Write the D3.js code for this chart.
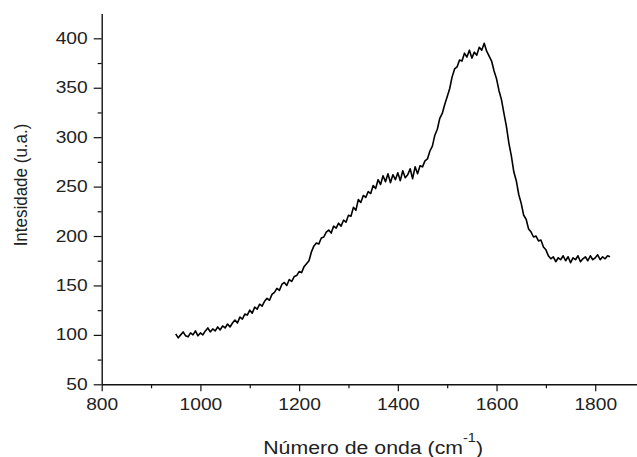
<!DOCTYPE html>
<html>
<head>
<meta charset="utf-8">
<script src="https://cdn.jsdelivr.net/npm/d3@7"></script>
<style>
  body { margin: 0; background: #fff; }
  text { font-family: "Liberation Sans", Arial, sans-serif; fill: #222; }
</style>
</head>
<body>
<script>
// Dimensions of the canvas
const width = 637;
const height = 457;

// Spectrum: wavenumber grid (cm-1) and intensity
const waveStart = 950;
const waveStep = 5;
const intensity = [
  101, 97, 100, 103, 99, 98, 102, 100, 104, 99,
  102, 100, 104, 107, 103, 106, 104, 108, 105, 109,
  107, 111, 108, 112, 115, 112, 118, 116, 121, 120,
  125, 122, 128, 126, 131, 129, 134, 137, 135, 141,
  143, 147, 145, 151, 153, 150, 156, 154, 159, 160,
  164, 163, 169, 172, 175, 184, 190, 193, 192, 198,
  199, 204, 206, 203, 210, 208, 213, 210, 216, 214,
  221, 220, 229, 226, 237, 234, 241, 239, 245, 243,
  251, 248, 257, 252, 261, 255, 263, 254, 262, 257,
  264, 256, 266, 259, 262, 268, 258, 270, 263, 271,
  270, 276, 278, 286, 291, 302, 308, 319, 324, 333,
  341, 349, 361, 369, 371, 378, 377, 385, 381, 388,
  380, 386, 383, 391, 388, 395, 387, 382, 377, 367,
  359, 347, 338, 324, 311, 294, 281, 265, 256, 242,
  233, 221, 217, 207, 204, 199, 200, 195, 196, 189,
  186, 180, 177, 179, 174, 178, 176, 180, 175, 179,
  173, 178, 176, 180, 174, 177, 179, 175, 180, 176,
  178, 181, 176, 179, 177, 180, 179
];
const wavenumber = d3.range(intensity.length).map(i => waveStart + i * waveStep);

// Axis ticks
const xTicks = [800, 1000, 1200, 1400, 1600, 1800];
const xMinor = [900, 1100, 1300, 1500, 1700];
const yTicks = [50, 100, 150, 200, 250, 300, 350, 400];
const yMinor = [75, 125, 175, 225, 275, 325, 375];

const svg = d3.select('body')
  .append('svg')
  .attr('width', width)
  .attr('height', height);

// Scales
const x = d3.scaleLinear().domain([800, 1900]).range([101.7, 644.6]);
const y = d3.scaleLinear().domain([50, 425]).range([384.3, 13.6]);

// Minor ticks first, so the main axes sit on top
svg.append('g')
  .attr('transform', `translate(0,${y(50)})`)
  .call(d3.axisBottom(x).tickValues(xMinor).tickSize(4).tickFormat(''))
  .call(g => g.select('.domain').remove())
  .selectAll('line').attr('stroke', '#111').attr('stroke-width', 1.2);

svg.append('g')
  .attr('transform', `translate(${x(800)},0)`)
  .call(d3.axisLeft(y).tickValues(yMinor).tickSize(4).tickFormat(''))
  .call(g => g.select('.domain').remove())
  .selectAll('line').attr('stroke', '#111').attr('stroke-width', 1.2);

// X axis
const xAxis = svg.append('g')
  .attr('transform', `translate(0,${y(50)})`)
  .call(d3.axisBottom(x).tickValues(xTicks).tickFormat(d3.format('d'))
    .tickSize(7).tickSizeOuter(0).tickPadding(7));
xAxis.select('.domain').attr('stroke', '#111').attr('stroke-width', 1.4);
xAxis.selectAll('line').attr('stroke', '#111').attr('stroke-width', 1.2);
xAxis.selectAll('text')
  .attr('font-size', 16)
  .attr('transform', 'scale(1.2,1)');

// Y axis
const yAxis = svg.append('g')
  .attr('transform', `translate(${x(800)},0)`)
  .call(d3.axisLeft(y).tickValues(yTicks).tickFormat(d3.format('d'))
    .tickSize(8).tickSizeOuter(0));
yAxis.select('.domain').attr('stroke', '#111').attr('stroke-width', 1.4);
yAxis.selectAll('line').attr('stroke', '#111').attr('stroke-width', 1.2);
yAxis.selectAll('text')
  .attr('font-size', 16)
  .attr('transform', 'scale(1.2,1)')
  .attr('x', -14 / 1.2);

// Spectrum line
const line = d3.line()
  .x((d, i) => x(wavenumber[i]))
  .y(d => y(d));

svg.append('path')
  .datum(intensity)
  .attr('d', line)
  .attr('fill', 'none')
  .attr('stroke', '#000')
  .attr('stroke-width', 1.6)
  .attr('stroke-linejoin', 'round');

// Axis titles
const xTitle = svg.append('text')
  .attr('transform', `translate(${(x(800) + x(1900)) / 2},454) scale(1.12,1)`)
  .attr('text-anchor', 'middle')
  .attr('font-size', 19);
xTitle.append('tspan').text('Número de onda (cm');
xTitle.append('tspan').attr('dy', -12).attr('font-size', 13).text('-1');
xTitle.append('tspan').attr('dy', 12).text(')');

svg.append('text')
  .attr('transform', 'translate(27,185) rotate(-90) scale(1,1.13)')
  .attr('text-anchor', 'middle')
  .attr('font-size', 17)
  .text('Intesidade (u.a.)');
</script>
</body>
</html>
